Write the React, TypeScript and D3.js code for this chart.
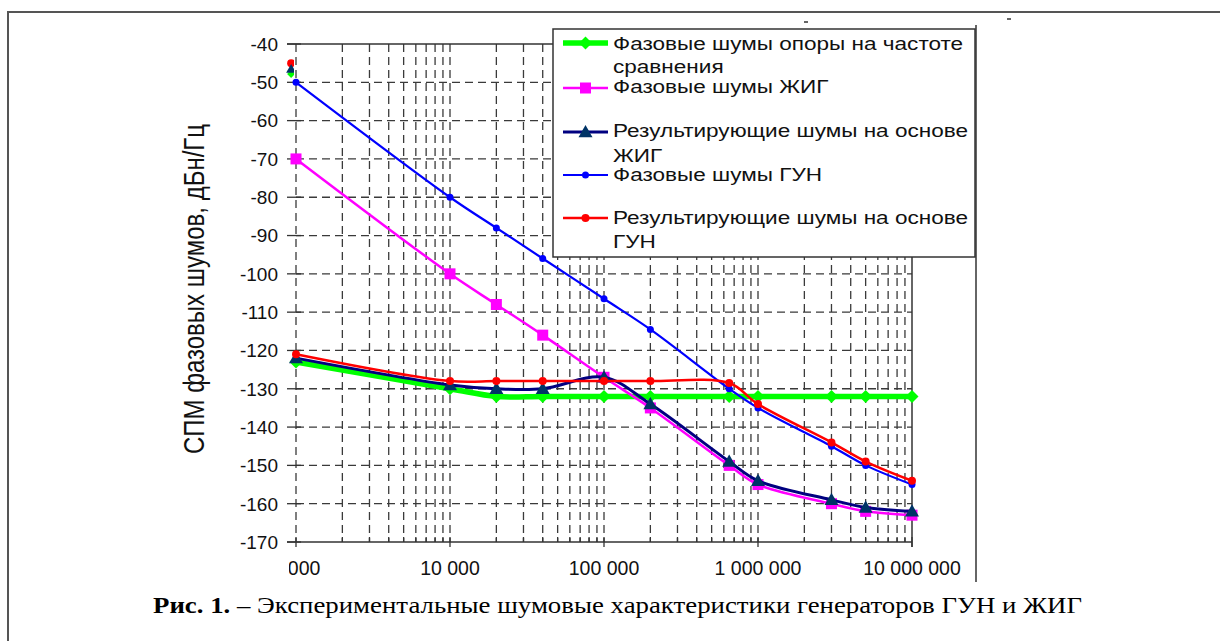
import React from "react";
import * as d3 from "d3";

const freqs = [1000, 10000, 20000, 40000, 100000, 200000, 650000, 1000000, 3000000, 5000000, 10000000];
const refNoise = [-123, -130, -132, -132, -132, -132, -132, -132, -132, -132, -132];
const yigNoise = [-70, -100, -108, -116, -127, -135, -150, -155, -160, -162, -163];
const yigResult = [-122, -129, -130, -130, -127, -134, -149, -154, -159, -161, -162];
const vcoNoise = [-50, -80, -88, -96, -106.5, -114.5, -130, -135, -145, -150, -155];
const vcoResult = [-121, -128, -128, -128, -128, -128, -128.5, -134, -144, -149, -154];
const strayFreq = 930;
const strayValues = [-45, -46.5, -47.8];

const yTicks = [-40, -50, -60, -70, -80, -90, -100, -110, -120, -130, -140, -150, -160, -170];
const xMajor = [1000, 10000, 100000, 1000000, 10000000];
const xLabels = ["1 000", "10 000", "100 000", "1 000 000", "10 000 000"];

const legendLabels = [
  ["Фазовые шумы опоры на частоте", "сравнения"],
  ["Фазовые шумы ЖИГ"],
  ["Результирующие шумы на основе", "ЖИГ"],
  ["Фазовые шумы ГУН"],
  ["Результирующие шумы на основе", "ГУН"],
];
const yTitle = "СПМ фазовых шумов, дБн/Гц";
const captionBold = "Рис. 1.";
const captionRest = " – Экспериментальные шумовые характеристики генераторов ГУН и ЖИГ";

type Sty = { color: string; width: number; marker: "diamond" | "square" | "triangle" | "circle"; size: number; fill: string };
const styles: Sty[] = [
  { color: "#00ff00", width: 5.5, marker: "diamond", size: 6.5, fill: "#00ff00" },
  { color: "#ff00ff", width: 2.5, marker: "square", size: 5.5, fill: "#ff00ff" },
  { color: "#000080", width: 3, marker: "triangle", size: 7, fill: "#003366" },
  { color: "#0000ff", width: 2.2, marker: "circle", size: 3.5, fill: "#0000ff" },
  { color: "#ff0000", width: 2.5, marker: "circle", size: 4, fill: "#ff0000" },
];
const seriesValues = [refNoise, yigNoise, yigResult, vcoNoise, vcoResult];

const FONT = "Arial, 'Liberation Sans', sans-serif";

function Marker({ x, y, s }: { x: number; y: number; s: Sty }) {
  const r = s.size;
  if (s.marker === "diamond")
    return <path d={`M${x},${y - r}L${x + r},${y}L${x},${y + r}L${x - r},${y}Z`} fill={s.fill} />;
  if (s.marker === "square")
    return <rect x={x - r} y={y - r} width={2 * r} height={2 * r} fill={s.fill} />;
  if (s.marker === "triangle")
    return <path d={`M${x},${y - r}L${x + r},${y + r * 0.75}L${x - r},${y + r * 0.75}Z`} fill={s.fill} />;
  return <circle cx={x} cy={y} r={r} fill={s.fill} />;
}

export default function App() {
  const x = d3.scaleLog().domain([1000, 10000000]).range([296, 912]);
  const y = d3.scaleLinear().domain([-170, -40]).range([542, 44]);
  const allX = x.ticks();
  const minorX = allX.filter((t) => !xMajor.includes(t));
  const line = d3
    .line<[number, number]>()
    .x((d) => x(d[0]))
    .y((d) => y(d[1]))
    .curve(d3.curveCatmullRom.alpha(0.5));

  const gridColor = "#3a3a3a";
  const dash = "8,5";

  return (
    <svg
      width={1220}
      height={641}
      style={{ position: "absolute", left: 0, top: 0, background: "#fff" }}
      fontFamily={FONT}
    >
      <rect x={0} y={0} width={1220} height={641} fill="#fff" />
      {/* outer frame */}
      <path d="M8,641V12H1220" fill="none" stroke="#555" strokeWidth={2} />
      <path d="M976,25V582" fill="none" stroke="#333" strokeWidth={1.5} />
      <line x1={804} x2={808} y1={22} y2={22} stroke="#333" strokeWidth={1.5} />
      <line x1={1007} x2={1011} y1={19} y2={19} stroke="#333" strokeWidth={1.5} />

      <defs>
        <clipPath id="lblclip">
          <rect x={289} y={540} width={700} height={60} />
        </clipPath>
        <clipPath id="strayclip">
          <rect x={270} y={40} width={24} height={50} />
        </clipPath>
      </defs>

      {/* horizontal grid */}
      {yTicks
        .filter((t) => t !== -40 && t !== -170)
        .map((t) => (
          <line key={"hg" + t} x1={296} x2={912} y1={y(t)} y2={y(t)} stroke={gridColor} strokeWidth={1.3} strokeDasharray={dash} />
        ))}
      {/* vertical grid */}
      {allX
        .filter((t) => t !== 10000000)
        .map((t) => (
          <line key={"vg" + t} x1={x(t)} x2={x(t)} y1={44} y2={542} stroke={gridColor} strokeWidth={1.3} strokeDasharray={dash} />
        ))}
      {/* plot borders */}
      <line x1={287} x2={912} y1={44} y2={44} stroke="#333" strokeWidth={1.5} />
      <line x1={287} x2={912} y1={542} y2={542} stroke="#333" strokeWidth={1.5} />
      <line x1={912} x2={912} y1={44} y2={547} stroke="#333" strokeWidth={1.5} />
      {/* y ticks */}
      {yTicks.map((t) => (
        <g key={"yt" + t}>
          <line x1={287} x2={301} y1={y(t)} y2={y(t)} stroke="#333" strokeWidth={1.3} />
          <text x={278} y={y(t)} dy="0.36em" textAnchor="end" fontSize={19} fill="#111">
            {t}
          </text>
        </g>
      ))}
      {/* x ticks */}
      {minorX.map((t) => (
        <line key={"xm" + t} x1={x(t)} x2={x(t)} y1={537} y2={542} stroke="#333" strokeWidth={1.3} />
      ))}
      {xMajor.map((t) => (
        <line key={"xM" + t} x1={x(t)} x2={x(t)} y1={537} y2={547} stroke="#333" strokeWidth={1.3} />
      ))}
      <g clipPath="url(#lblclip)">
        {xMajor.map((t, i) => (
          <text key={"xl" + t} x={x(t)} y={575} textAnchor="middle" fontSize={19.5} fill="#111">
            {xLabels[i]}
          </text>
        ))}
      </g>

      {/* y title */}
      <text
        transform="translate(204,289) rotate(-90) scale(1,1.2)"
        textAnchor="middle"
        fontSize={24}
        fill="#111"
      >
        {yTitle}
      </text>

      {/* stray partial markers */}
      <g clipPath="url(#strayclip)">
        <Marker x={x(strayFreq)} y={y(strayValues[0])} s={styles[4]} />
        <Marker x={x(strayFreq)} y={y(strayValues[2])} s={{ ...styles[0], size: 4 }} />
        <Marker x={x(strayFreq)} y={y(strayValues[1])} s={{ ...styles[2], size: 5 }} />
      </g>

      {/* series */}
      {seriesValues.map((vals, si) => {
        const s = styles[si];
        const pts = freqs.map((f, i) => [f, vals[i]] as [number, number]);
        return (
          <g key={"s" + si}>
            <path d={line(pts) || ""} fill="none" stroke={s.color} strokeWidth={s.width} strokeLinejoin="round" />
            {pts.map((p, i) => (
              <Marker key={i} x={x(p[0])} y={y(p[1])} s={s} />
            ))}
          </g>
        );
      })}

      {/* legend */}
      <rect x={553} y={29} width={422} height={228} fill="#fff" stroke="#333" strokeWidth={1.5} />
      {[43, 88, 132, 175, 218].map((ly, i) => {
        const s = styles[i];
        return (
          <g key={"lg" + i}>
            <line x1={563} x2={608} y1={ly} y2={ly} stroke={s.color} strokeWidth={s.width} />
            <Marker x={585.5} y={ly} s={s} />
          </g>
        );
      })}
      {[
        [50, 73],
        [93],
        [137, 162],
        [181],
        [224, 248],
      ].map((bls, i) =>
        bls.map((bl, j) => (
          <text
            key={"lt" + i + "_" + j}
            transform={`translate(613,${bl}) scale(1.22,1)`}
            fontSize={18.5}
            fill="#111"
          >
            {legendLabels[i][j]}
          </text>
        ))
      )}

      {/* caption */}
      <text
        x={153}
        y={613}
        fontFamily="'Times New Roman', 'Liberation Serif', serif"
        fontSize={23}
        fill="#000"
        textLength={929}
        lengthAdjust="spacingAndGlyphs"
      >
        <tspan fontWeight="bold">{captionBold}</tspan>
        <tspan>{captionRest}</tspan>
      </text>
    </svg>
  );
}
